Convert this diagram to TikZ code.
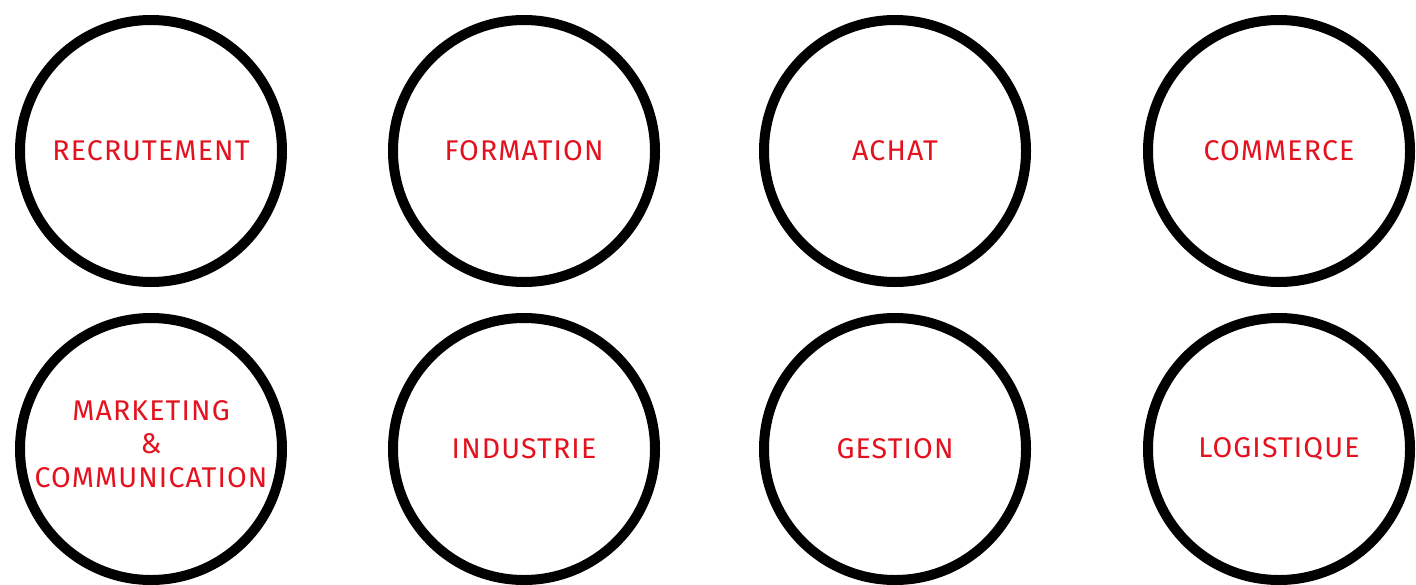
\documentclass[tikz,border=0pt]{standalone}
\usepackage{fontspec}
\setmainfont{Fira Sans}[LetterSpace=4]
\usetikzlibrary{positioning}
\definecolor{rouge}{RGB}{228,18,30}

\begin{document}
\begin{tikzpicture}[
  x=1pt, y=-1pt,
  dom/.style={draw, circle, line width=10pt, minimum size=262pt,
              inner sep=0pt, align=center, text=rouge,
              font=\fontsize{28.5}{33.5}\selectfont}
]
\useasboundingbox (0,0) rectangle (1416,584);

\node[dom] (recr) at (151, 151) {RECRUTEMENT};
\node[dom] (form) at (524, 151) {FORMATION};
\node[dom] (acha) at (895, 151) {ACHAT};
\node[dom] (comm) at (1279, 151) {COMMERCE};

\node[dom] (mark) at (151, 449) {};
\node[text=rouge, align=center, font=\fontsize{28.5}{33.5}\selectfont]
  (marktxt) at (151, 444) {MARKETING\\\&\\COMMUNICATION};
\node[dom] (indu) at (524, 449) {INDUSTRIE};
\node[dom] (gest) at (895, 449) {GESTION};
\node[dom] (logi) at (1279, 449) {LOGISTIQUE};

\end{tikzpicture}
\end{document}
